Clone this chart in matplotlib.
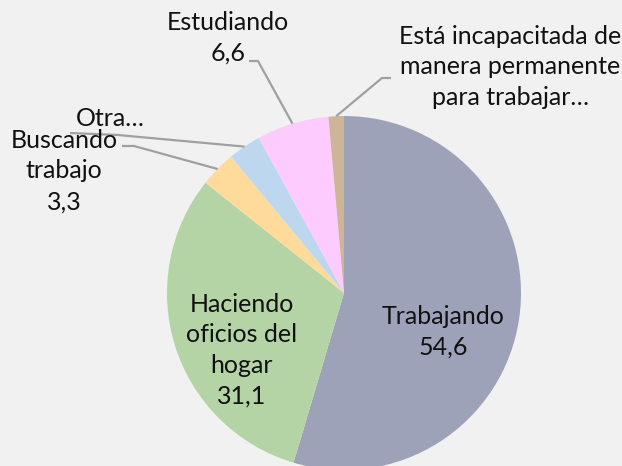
import numpy as np
import matplotlib.pyplot as plt

# Share of the population by main activity (%)
categories = ["Trabajando", "Haciendo\noficios del\nhogar", "Buscando\ntrabajo", "Otra…",
              "Estudiando", "Está incapacitada de\nmanera permanente\npara trabajar…"]
values = [54.6, 31.1, 3.3, 3.0, 6.6, 1.4]
value_labels = ["54,6", "31,1", "3,3", "", "6,6", ""]
colors = ["#9da2b9", "#b5d4a6", "#fedb9b", "#bdd7ee", "#fecbfe", "#cdb597"]

W, H = 622, 466
fig = plt.figure(figsize=(W / 100, H / 100), dpi=100, facecolor="#f1f1f1")
ax = fig.add_axes([0, 0, 1, 1])

cx, cy, r = 344, H - 293, 177
wedges, _ = ax.pie(values, colors=colors, startangle=90, counterclock=False,
                   center=(cx, cy), radius=r, frame=True,
                   wedgeprops=dict(linewidth=0))
ax.set_xlim(0, W)
ax.set_ylim(0, H)
ax.set_aspect("equal")
ax.axis("off")

font = dict(family="Lato", fontsize=18, color="#111111", ha="center", va="center",
            linespacing=1.4)
line_kw = dict(color="#a0a0a0", lw=1.6, solid_capstyle="butt")


def label_text(i):
    return categories[i] + ("\n" + value_labels[i] if value_labels[i] else "")


def edge_point(w, frac=0.5):
    ang = np.deg2rad(w.theta1 + (w.theta2 - w.theta1) * frac)
    return cx + r * np.cos(ang), cy + r * np.sin(ang)


# labels inside the two big slices
ax.text(443, H - 332, label_text(0), **font)
ax.text(242, H - 350, label_text(1), **font)

# outside labels with leader lines: (text pos, elbow start, elbow end)
outside = {
    2: ((64, H - 171), (122, H - 146), (134, H - 146)),
    3: ((110, H - 119), (70, H - 133), (118, H - 135)),
    4: ((228, H - 38), (249, H - 61), (258, H - 61)),
    5: ((510, H - 67), (391, H - 78), (382, H - 78)),
}
for i, (tpos, p0, p1) in outside.items():
    ex, ey = edge_point(wedges[i])
    ax.plot([p0[0], p1[0], ex], [p0[1], p1[1], ey], zorder=1, **line_kw)
    ax.text(tpos[0], tpos[1], label_text(i), zorder=3, **font)

fig.savefig("out.png", dpi=100, facecolor=fig.get_facecolor())
